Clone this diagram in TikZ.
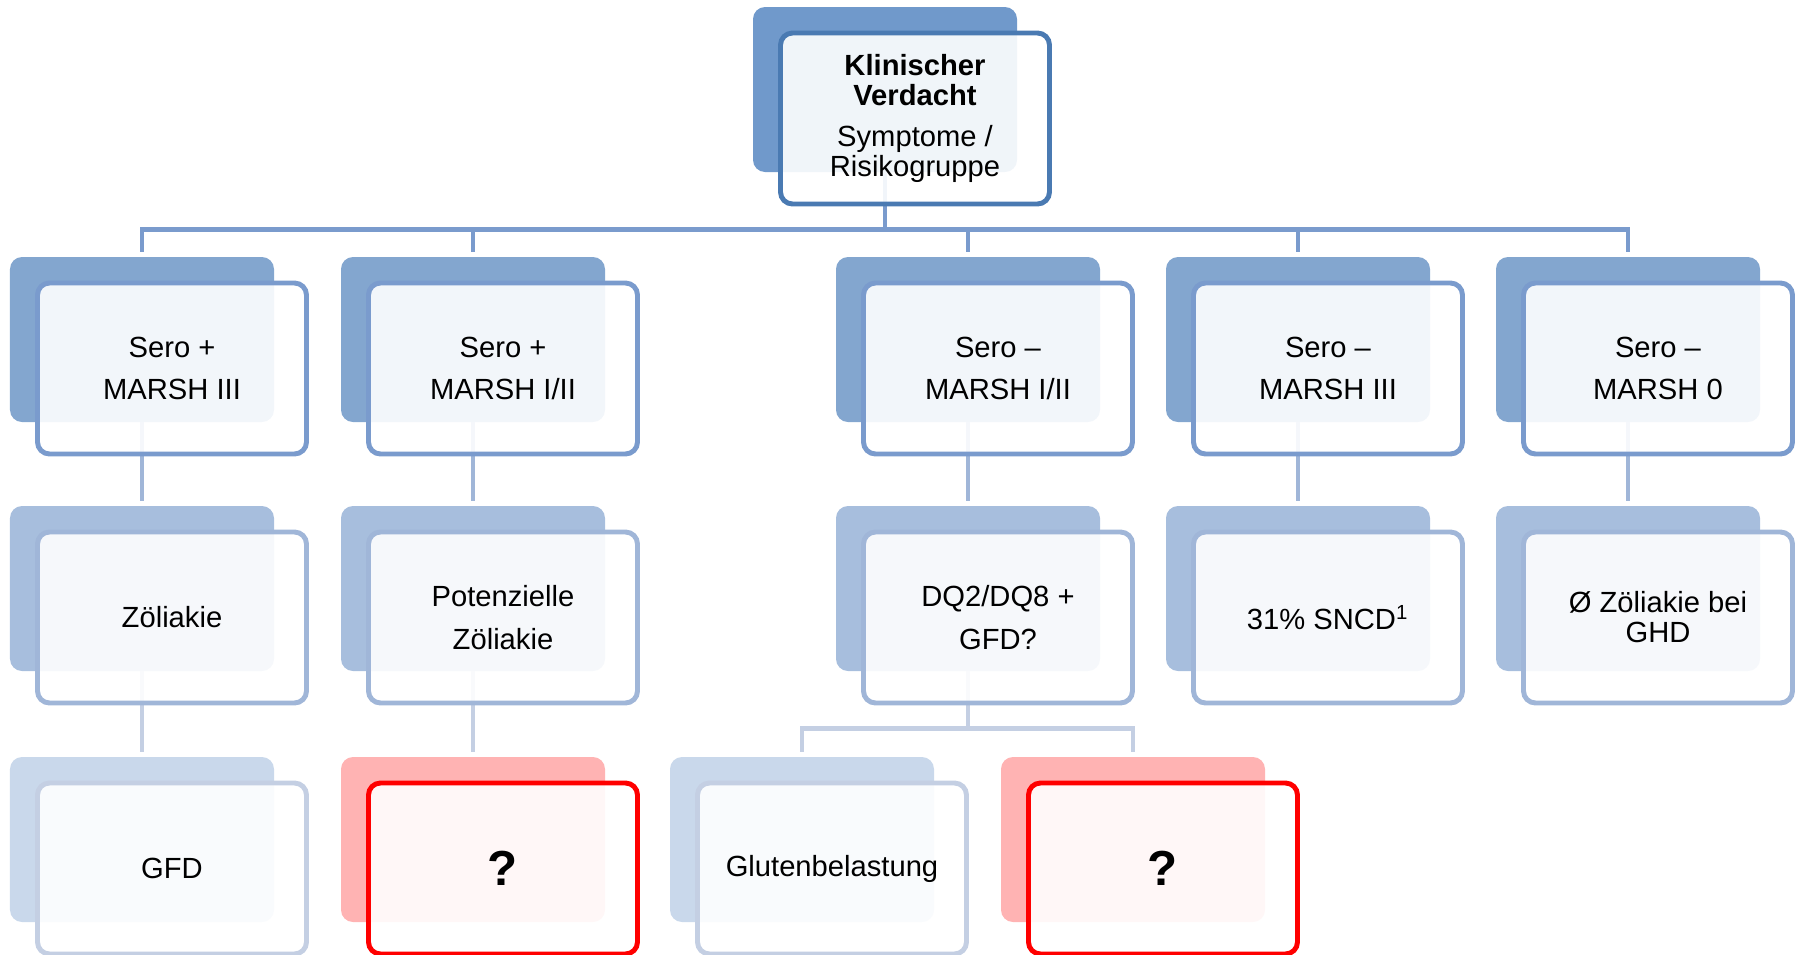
\documentclass[tikz,border=0pt]{standalone}
\usepackage{fontspec}
\setmainfont{Liberation Sans}
\usepackage{tikz}
\usetikzlibrary{positioning}
\definecolor{backA}{RGB}{112,153,203}
\definecolor{lineA}{RGB}{74,122,178}
\definecolor{backB}{RGB}{131,166,207}
\definecolor{lineB}{RGB}{122,155,205}
\definecolor{backC}{RGB}{167,190,221}
\definecolor{lineC}{RGB}{160,182,216}
\definecolor{backD}{RGB}{201,216,235}
\definecolor{lineD}{RGB}{196,207,227}
\definecolor{backR}{RGB}{255,179,179}
\definecolor{lineR}{RGB}{255,0,0}

\begin{document}
\begin{tikzpicture}[
    back/.style={rectangle, rounded corners=0.12cm, minimum width=2.64cm, minimum height=1.65cm, inner sep=0pt, outer sep=0pt},
    card/.style={rectangle, rounded corners=0.12cm, minimum width=2.69cm, minimum height=1.71cm, inner sep=2pt, align=center,
        line width=1.4pt, fill=white, fill opacity=0.9, text opacity=1, font=\fontsize{8.3}{12}\selectfont},
    link/.style={line width=1.4pt},
    node distance=0.84cm
]
    \useasboundingbox (0,0) rectangle (18,-9.55);

    % back plates
    \node[back, fill=backA] (top) at (8.85,-0.895) {};

    \node[back, fill=backB] (s1) at (1.42,-3.395) {};
    \node[back, fill=backB, right=0.67cm of s1] (s2) {};
    \node[back, fill=backB] (s3) at (9.68,-3.395) {};
    \node[back, fill=backB, right=0.66cm of s3] (s4) {};
    \node[back, fill=backB, right=0.66cm of s4] (s5) {};

    \node[back, fill=backC, below=of s1] (z1) {};
    \node[back, fill=backC, below=of s2] (z2) {};
    \node[back, fill=backC, below=of s3] (z3) {};
    \node[back, fill=backC, below=of s4] (z4) {};
    \node[back, fill=backC, below=of s5] (z5) {};

    \node[back, fill=backD, below=0.86cm of z1] (r1) {};
    \node[back, fill=backR, below=0.86cm of z2] (r2) {};
    \node[back, fill=backD, below=0.86cm of z3, xshift=-1.66cm] (r3) {};
    \node[back, fill=backR, below=0.86cm of z3, xshift=1.65cm] (r4) {};

    % connectors
    \coordinate (bar) at (0,-2.295);
    \coordinate (bar2) at (0,-7.285);
    \foreach \n in {s1,s2,s3,s4,s5}
        \draw[link, lineB] (top.south) |- (bar -| \n.north) -- ([yshift=0.05cm]\n.north);
    \foreach \a/\b in {s1/z1,s2/z2,s3/z3,s4/z4,s5/z5}
        \draw[link, lineC] (\a.south) -- ([yshift=0.05cm]\b.north);
    \draw[link, lineD] (z1.south) -- ([yshift=0.05cm]r1.north);
    \draw[link, lineD] (z2.south) -- ([yshift=0.05cm]r2.north);
    \foreach \n in {r3,r4}
        \draw[link, lineD] (z3.south) |- (bar2 -| \n.north) -- ([yshift=0.05cm]\n.north);

    % cards
    \node[card, draw=lineA, font=\fontsize{8.3}{8.5}\selectfont] (topt) at ([xshift=0.3cm,yshift=-0.29cm]top.center)
        {\textbf{Klinischer}\\\textbf{Verdacht}\\[3.4pt]Symptome /\\Risikogruppe};

    \node[card, draw=lineB] (s1t) at ([xshift=0.3cm,yshift=-0.29cm]s1.center) {Sero +\\MARSH III};
    \node[card, draw=lineB] (s2t) at ([xshift=0.3cm,yshift=-0.29cm]s2.center) {Sero +\\MARSH I/II};
    \node[card, draw=lineB] (s3t) at ([xshift=0.3cm,yshift=-0.29cm]s3.center) {Sero --\\MARSH I/II};
    \node[card, draw=lineB] (s4t) at ([xshift=0.3cm,yshift=-0.29cm]s4.center) {Sero --\\MARSH III};
    \node[card, draw=lineB] (s5t) at ([xshift=0.3cm,yshift=-0.29cm]s5.center) {Sero --\\MARSH 0};

    \node[card, draw=lineC] (z1t) at ([xshift=0.3cm,yshift=-0.29cm]z1.center) {Zöliakie};
    \node[card, draw=lineC] (z2t) at ([xshift=0.3cm,yshift=-0.29cm]z2.center) {Potenzielle\\Zöliakie};
    \node[card, draw=lineC] (z3t) at ([xshift=0.3cm,yshift=-0.29cm]z3.center) {DQ2/DQ8 +\\GFD?};
    \node[card, draw=lineC] (z4t) at ([xshift=0.3cm,yshift=-0.29cm]z4.center) {31\% SNCD\textsuperscript{1}};
    \node[card, draw=lineC, font=\fontsize{8.3}{8.5}\selectfont] (z5t) at ([xshift=0.3cm,yshift=-0.29cm]z5.center) {Ø Zöliakie bei\\GHD};

    \node[card, draw=lineD] (r1t) at ([xshift=0.3cm,yshift=-0.29cm]r1.center) {GFD};
    \node[card, draw=lineR, font=\fontsize{14}{16}\selectfont\bfseries] (r2t) at ([xshift=0.3cm,yshift=-0.29cm]r2.center) {?};
    \node[card, draw=lineD] (r3t) at ([xshift=0.3cm,yshift=-0.29cm]r3.center) {Glutenbelastung};
    \node[card, draw=lineR, font=\fontsize{14}{16}\selectfont\bfseries] (r4t) at ([xshift=0.3cm,yshift=-0.29cm]r4.center) {?};
\end{tikzpicture}
\end{document}
